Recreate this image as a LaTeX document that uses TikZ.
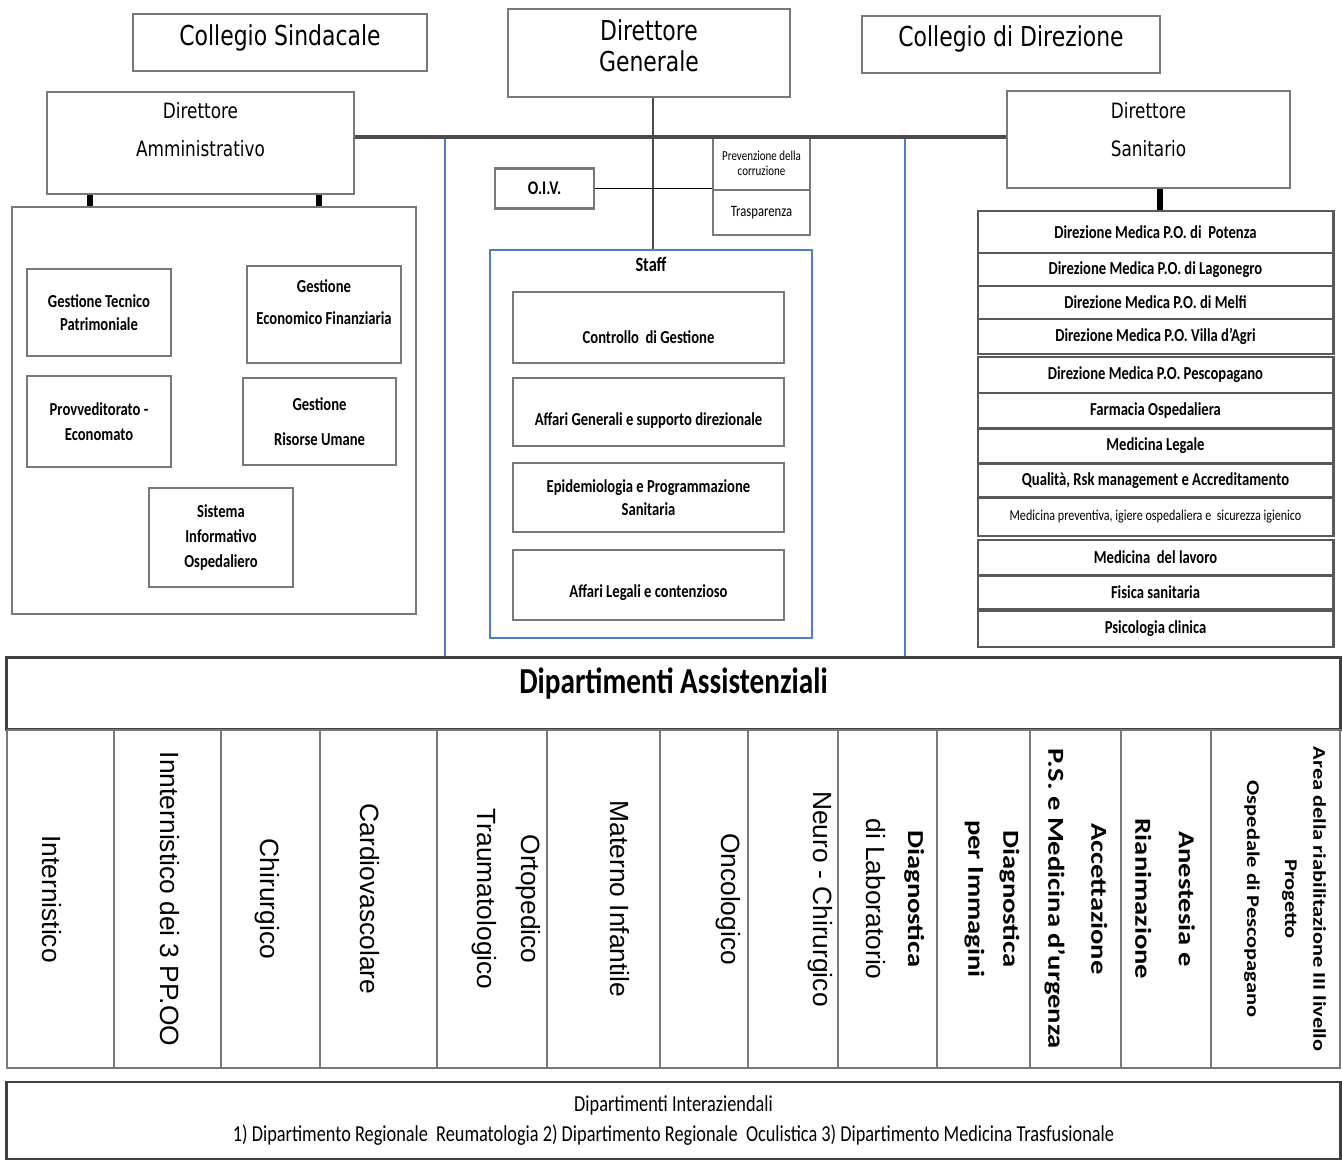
\documentclass[tikz,border=0pt]{standalone}
\usepackage{fontspec}
\setmainfont[FakeStretch=0.8]{DejaVu Sans}
\newfontfamily\narrowfont[FakeStretch=0.8]{Carlito}
\newfontfamily\armfont{Liberation Sans}
\newfontfamily\vcalfont[FakeStretch=1.25]{Carlito}
\definecolor{lineblue}{RGB}{80,125,200}
\definecolor{boxgray}{RGB}{120,120,120}

\begin{document}
\begin{tikzpicture}[x=0.01cm, y=-0.01cm,
    topbox/.style={draw=boxgray, line width=0.6pt, rectangle, align=center, inner sep=1pt, font=\fontsize{7.8}{8.8}\selectfont},
    unitbox/.style={draw=boxgray, line width=0.6pt, rectangle, align=center, inner sep=1pt, font=\narrowfont\bfseries\fontsize{5.2}{6.5}\selectfont},
    rowbox/.style={draw=black!65, line width=0.8pt, rectangle, minimum width=3.55cm, inner sep=0pt, font=\narrowfont\bfseries\fontsize{5.2}{6.5}\selectfont},
    colbox/.style={draw=boxgray, line width=0.6pt},
    vtext/.style={rotate=-90, align=center, inner sep=0pt, font=\armfont\fontsize{7.5}{9}\selectfont},
    vcal/.style={rotate=-90, align=center, inner sep=0pt, font=\vcalfont\bfseries\fontsize{6.5}{9}\selectfont},
    hline/.style={draw=black!70, line width=0.9pt},
    blueline/.style={draw=lineblue, line width=0.6pt},
    tick/.style={draw=black, line width=1.8pt}]
    \useasboundingbox (0,0) rectangle (1342,1161);
    % Vertici
    \node[topbox, minimum width=2.94cm, minimum height=0.57cm, text height=0.16cm, text depth=0.09cm] (cs) at (280,42.5) {Collegio Sindacale};
    \node[topbox, minimum width=2.82cm, minimum height=0.88cm] (dg) at (649,53) {Direttore\\Generale\\[-4.8pt]\mbox{}};
    \node[topbox, minimum width=2.98cm, minimum height=0.57cm, text height=0.15cm, text depth=0.10cm] (cd) at (1011,44.5) {Collegio di Direzione};
    \node[topbox, minimum width=3.07cm, minimum height=1.02cm, font=\fontsize{6}{10.8}\selectfont] (da) at (200.5,143) {Direttore\\Amministrativo\\[-3pt]\mbox{}};
    \node[topbox, minimum width=2.83cm, minimum height=0.97cm, font=\fontsize{6}{10.8}\selectfont] (ds) at (1148.5,139.5) {Direttore\\Sanitario\\[-5pt]\mbox{}};
    % OIV e trasparenza
    \node[unitbox, minimum width=0.99cm, minimum height=0.40cm, font=\narrowfont\bfseries\fontsize{5.5}{6.5}\selectfont] (oiv) at (544.5,188.5) {O.I.V.};
    \node[unitbox, minimum width=0.97cm, minimum height=0.53cm, font=\narrowfont\fontsize{3.9}{4.3}\selectfont] (prev) at (761.5,163.5) {Prevenzione della\\corruzione};
    \node[unitbox, minimum width=0.97cm, minimum height=0.45cm, font=\narrowfont\fontsize{4.5}{5}\selectfont] (trasp) at (761.5,212.5) {Trasparenza};
    % Area amministrativa
    \node[draw=boxgray, line width=0.6pt, minimum width=4.04cm, minimum height=4.07cm] (adm) at (214,410.5) {};
    \node[unitbox, minimum width=1.44cm, minimum height=0.87cm, font=\narrowfont\bfseries\fontsize{5.2}{6.5}\selectfont] (gtp) at (99,312.5) {Gestione Tecnico\\Patrimoniale};
    \node[unitbox, minimum width=1.54cm, minimum height=0.97cm, font=\narrowfont\bfseries\fontsize{5.2}{9.1}\selectfont] (gef) at (324,314.5) {Gestione\\Economico Finanziaria\\[-2.3pt]\mbox{}};
    \node[unitbox, minimum width=1.44cm, minimum height=0.91cm, font=\narrowfont\bfseries\fontsize{5.2}{7.2}\selectfont] (pe) at (99,421.5) {Provveditorato -\\Economato};
    \node[unitbox, minimum width=1.53cm, minimum height=0.87cm, font=\narrowfont\bfseries\fontsize{5.2}{10}\selectfont] (gru) at (319.5,421.5) {Gestione\\Risorse Umane};
    \node[unitbox, minimum width=1.44cm, minimum height=0.99cm, font=\narrowfont\bfseries\fontsize{5.2}{7}\selectfont] (sio) at (221,537.5) {Sistema\\Informativo\\Ospedaliero};
    % Staff
    \node[draw=lineblue, line width=0.6pt, minimum width=3.22cm, minimum height=3.88cm,
        label={[anchor=north, yshift=0.04cm, font=\narrowfont\bfseries\fontsize{5.8}{7}\selectfont]north:Staff}] (staff) at (651,444) {};
    \node[unitbox, minimum width=2.71cm, minimum height=0.71cm, text height=0.35cm, text depth=0.04cm] (cg) at (648.5,327.5) {Controllo\ \ di Gestione};
    \node[unitbox, minimum width=2.71cm, minimum height=0.68cm, text height=0.31cm, text depth=0.04cm] (ag) at (648.5,412) {Affari Generali e supporto direzionale};
    \node[unitbox, minimum width=2.71cm, minimum height=0.69cm] (ep) at (648.5,497.5) {Epidemiologia e Programmazione\\Sanitaria};
    \node[unitbox, minimum width=2.71cm, minimum height=0.70cm, text height=0.28cm, text depth=0.04cm] (al) at (648.5,585) {Affari Legali e contenzioso};
    % Area sanitaria
    \node[rowbox, minimum height=0.42cm] (pz) at (1155.5,232) {Direzione Medica P.O. di\ \ Potenza};
    \node[rowbox, minimum height=0.33cm] (lg) at (1155.5,269.5) {Direzione Medica P.O. di Lagonegro};
    \node[rowbox, minimum height=0.33cm] (mf) at (1155.5,302.5) {Direzione Medica P.O. di Melfi};
    \node[rowbox, minimum height=0.35cm] (va) at (1155.5,336.5) {Direzione Medica P.O. Villa d’Agri};
    \node[rowbox, minimum height=0.36cm] (pp) at (1155.5,375) {Direzione Medica P.O. Pescopagano};
    \node[rowbox, minimum height=0.35cm] (fo) at (1155.5,410.5) {Farmacia Ospedaliera};
    \node[rowbox, minimum height=0.34cm] (ml) at (1155.5,446) {Medicina Legale};
    \node[rowbox, minimum height=0.34cm] (qr) at (1155.5,480.5) {Qualità, Rsk management e Accreditamento};
    \node[rowbox, minimum height=0.38cm, font=\narrowfont\fontsize{4.3}{5}\selectfont] (mp) at (1155.5,517) {Medicina preventiva, igiere ospedaliera e\ \ sicurezza igienico};
    \node[rowbox, minimum height=0.35cm] (lv) at (1155.5,557.5) {Medicina\ \ del lavoro};
    \node[rowbox, minimum height=0.34cm] (fs) at (1155.5,592.5) {Fisica sanitaria};
    \node[rowbox, minimum height=0.36cm] (pc) at (1155.5,629) {Psicologia clinica};
    % Dipartimenti
    \node[draw=black!75, line width=0.8pt, minimum width=13.33cm, minimum height=0.72cm, text height=0.2cm, text depth=0.2cm,
        font=\narrowfont\bfseries\fontsize{10.4}{12}\selectfont] (dass) at (673.5,693.5) {Dipartimenti Assistenziali};
    \foreach \a/\b in {7/114, 114/221, 221/320, 320/437, 437/547, 547/660, 660/748, 748/838, 838/937, 937/1030, 1030/1121, 1121/1211, 1211/1340}
        \draw[colbox] (\a,730) rectangle (\b,1068);
    \node[vtext] (c1) at (52,899) {Internistico};
    \node[vtext] (c2) at (170,899) {Innternistico dei 3 PP.OO};
    \node[vtext] (c3) at (267,899) {Chirurgico};
    \node[vtext] (c4) at (370,899) {Cardiovascolare};
    \node[vtext, font=\armfont\fontsize{7.5}{12.5}\selectfont] (c5) at (506,899) {Ortopedico\\Traumatologico};
    \node[vtext] (c6) at (620,899) {Materno Infantile};
    \node[vtext] (c7) at (728,899) {Oncologico};
    \node[vtext] (c8) at (820,899) {Neuro - Chirurgico};
    \node[vtext, font=\armfont\fontsize{7.5}{12}\selectfont] (c9) at (895,899) {{\vcalfont\bfseries\fontsize{6.5}{9}\selectfont Diagnostica}\\di Laboratorio};
    \node[vcal, font=\vcalfont\bfseries\fontsize{6.5}{10}\selectfont] (c10) at (992,899) {Diagnostica\\per Immagini};
    \node[vcal, font=\vcalfont\bfseries\fontsize{6.5}{12.2}\selectfont] (c11) at (1076,899) {Accettazione\\P.S. e Medicina d’urgenza};
    \node[vcal, font=\vcalfont\bfseries\fontsize{6.5}{12.4}\selectfont] (c12) at (1165,899) {Anestesia e\\Rianimazione};
    \node[vcal, font=\vcalfont\bfseries\fontsize{5.1}{8}\selectfont] (c13) at (1285,899) {Area della riabilitazione III livello\\Progetto\\[2.8pt]Ospedale di Pescopagano};
    \node[draw=black!75, line width=0.8pt, minimum width=13.33cm, minimum height=0.77cm, align=center,
        font=\narrowfont\fontsize{6.5}{8.3}\selectfont] (dint) at (673.5,1120.5) {Dipartimenti Interaziendali\\1) Dipartimento Regionale\ \ Reumatologia 2) Dipartimento Regionale\ \ Oculistica 3) Dipartimento Medicina Trasfusionale};
    % Collegamenti
    \coordinate (hl) at (653,137);
    \coordinate (b1) at (445,137);
    \coordinate (b2) at (905,137);
    \coordinate (t1) at (90,0);
    \coordinate (t2) at (319,0);
    \coordinate (t3) at (1160,0);
    \draw[blueline] (b1) -- (b1 |- dass.north);
    \draw[blueline] (b2) -- (b2 |- dass.north);
    \draw[hline] (da.east |- hl) -- (ds.west |- hl);
    \draw[hline, line width=0.7pt] (dg.south -| hl) -- (staff.north -| hl);
    \draw[line width=0.5pt] (oiv.east) -- (oiv.east -| trasp.west);
    \draw[tick] (da.south -| t1) -- (adm.north -| t1);
    \draw[tick] (da.south -| t2) -- (adm.north -| t2);
    \draw[tick] (ds.south -| t3) -- (pz.north -| t3);
\end{tikzpicture}
\end{document}
